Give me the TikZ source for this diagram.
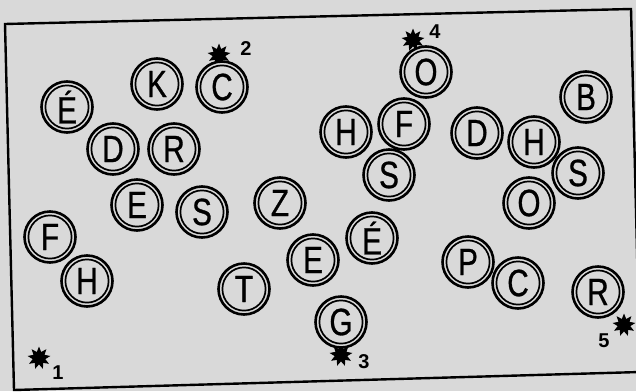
\documentclass[tikz,border=0pt]{standalone}
\usepackage{fontspec}
\setmainfont{Liberation Sans}
\newfontfamily\keyfont[FakeStretch=0.78,FakeBold=0.8]{Liberation Sans}
\usetikzlibrary{shapes.geometric}
\definecolor{paper}{gray}{0.85}

\begin{document}
\begin{tikzpicture}[
    x=1pt, y=-1pt,
    key/.style={circle, draw=black, line width=2.6pt, fill=paper,
        minimum size=51pt, inner sep=0pt, font=\keyfont\fontsize{38}{38}\selectfont,
        path picture={\draw[line width=1.7pt] (path picture bounding box.center) circle (21.6pt);}},
    blot/.style={star, star points=9, star point ratio=1.8, fill=black, draw=none,
        minimum size=23pt, inner sep=0pt},
    num/.style={font=\bfseries\fontsize{20}{20}\selectfont, inner sep=0pt}
]
    \useasboundingbox (0,0) rectangle (636,391);
    \clip (0,0) rectangle (636,391);
    \fill[paper] (0,0) rectangle (636,391);

    % Frame
    \draw[line width=2.4pt] (5,24) -- (631,9) -- (640,372) -- (14,390) -- cycle;

    % Stars
    \node[blot] (star1) at (39,358) {};
    \node[blot] (star2) at (219,55) {};
    \node[blot] (star3) at (341,355) {};
    \node[blot] (star4) at (413,40) {};
    \node[blot] (star5) at (624,325) {};

    % Numbers
    \node[num] (n1) at (58,373) {1};
    \node[num] (n2) at (246,49) {2};
    \node[num] (n3) at (364,362) {3};
    \node[num] (n4) at (435,32) {4};
    \node[num] (n5) at (604,341) {5};

    % Keys, left group
    \node[key] (eacute1) at (67,107) {É};
    \node[key] (k1) at (157,84) {K};
    \node[key] (c1) at (222,87) {C};
    \node[key] (d1) at (113,149) {D};
    \node[key] (r1) at (174,149) {R};
    \node[key] (e1) at (137,205) {E};
    \node[key] (s1) at (202,212) {S};
    \node[key] (f1) at (50,237) {F};
    \node[key] (h1) at (87,281) {H};

    % Keys, middle group
    \node[key] (z1) at (280,203) {Z};
    \node[key] (t1) at (244,289) {T};
    \node[key] (e2) at (313,260) {E};
    \node[key] (eacute2) at (372,238) {É};
    \node[key] (g1) at (341,322) {G};
    \node[key] (o1) at (426,72) {O};
    \node[key] (h2) at (346,132) {H};
    \node[key] (s2) at (389,175) {S};
    \node[key] (f2) at (404,124) {F};

    % Keys, right group
    \node[key] (d2) at (477,133) {D};
    \node[key] (b1) at (586,97) {B};
    \node[key] (o2) at (529,203) {O};
    \node[key] (s3) at (578,173) {S};
    \node[key] (h3) at (534,142) {H};
    \node[key] (p1) at (468,262) {P};
    \node[key] (c2) at (518,283) {C};
    \node[key] (r2) at (598,292) {R};
\end{tikzpicture}
\end{document}
